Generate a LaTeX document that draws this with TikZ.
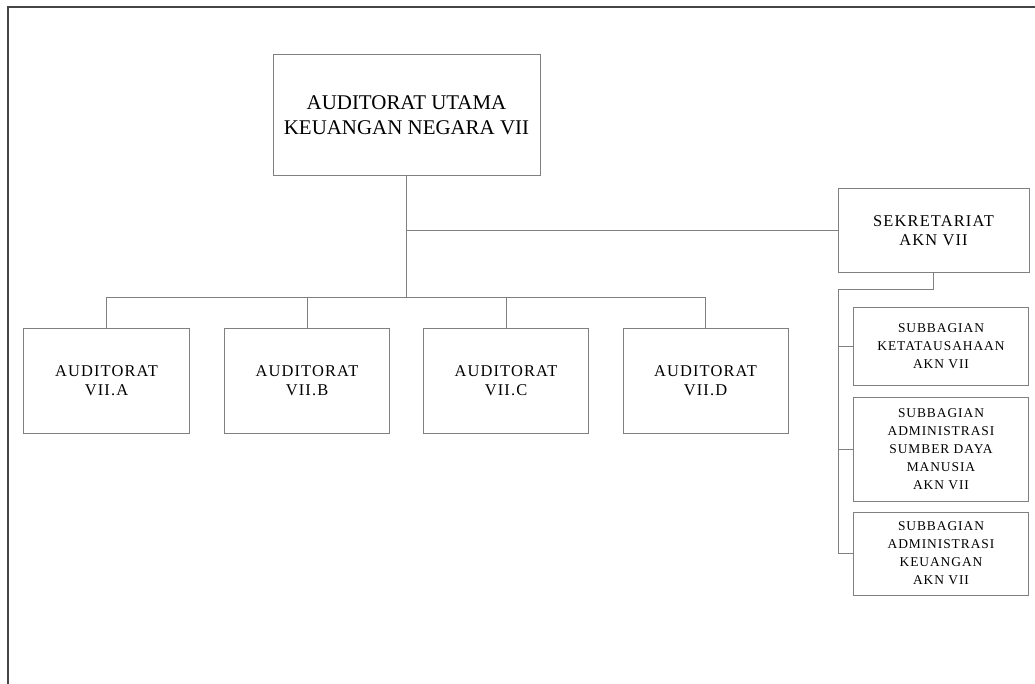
\documentclass[tikz,border=0pt]{standalone}
\usepackage{fontspec}
\setmainfont{Liberation Serif}
\newfontfamily\sparse[LetterSpace=7]{Liberation Serif}
\definecolor{boxgray}{HTML}{808080}
\definecolor{linegray}{HTML}{808080}
\definecolor{framegray}{HTML}{454545}
\tikzset{
  orgbox/.style={draw=boxgray, line width=1bp, rectangle, inner sep=0pt, align=center, text=black},
  conn/.style={draw=linegray, line width=1bp},
  framel/.style={draw=framegray, line width=1.3bp},
  maintext/.style={font=\fontsize{21}{25}\selectfont},
  audtext/.style={font=\sparse\fontsize{16.5}{18.5}\selectfont},
  sektext/.style={font=\sparse\fontsize{16.5}{19}\selectfont},
  subtext/.style={font=\sparse\fontsize{13.5}{18}\selectfont}
}
\begin{document}
\begin{tikzpicture}[x=1bp,y=-1bp]
\useasboundingbox (0,0) rectangle (1035,684);
% frame
\coordinate (fb) at (8,684);
\coordinate (fc) at (8,7);
\coordinate (fr) at (1035,7);
\draw[framel] (fb) -- (fc) -- (fr);
% nodes
\node[orgbox, maintext, minimum width=267bp, minimum height=120bp] (main) at (406.5,115) {AUDITORAT UTAMA\\KEUANGAN NEGARA VII};
\node[orgbox, sektext, minimum width=191bp, minimum height=83bp] (sek) at (933.5,230.5) {SEKRETARIAT\\AKN VII};
\node[orgbox, audtext, minimum width=165bp, minimum height=105bp] (a) at (106.5,380.5) {AUDITORAT\\VII.A};
\node[orgbox, audtext, minimum width=165bp, minimum height=105bp] (b) at (307,380.5) {AUDITORAT\\VII.B};
\node[orgbox, audtext, minimum width=165bp, minimum height=105bp] (c) at (506,380.5) {AUDITORAT\\VII.C};
\node[orgbox, audtext, minimum width=165bp, minimum height=105bp] (d) at (705.5,380.5) {AUDITORAT\\VII.D};
\node[orgbox, subtext, minimum width=175bp, minimum height=78bp] (s1) at (941,346) {SUBBAGIAN\\KETATAUSAHAAN\\AKN VII};
\node[orgbox, subtext, minimum width=175bp, minimum height=104bp] (s2) at (941,449) {SUBBAGIAN\\ADMINISTRASI\\SUMBER DAYA\\MANUSIA\\AKN VII};
\node[orgbox, subtext, minimum width=175bp, minimum height=83bp] (s3) at (941,553.5) {SUBBAGIAN\\ADMINISTRASI\\KEUANGAN\\AKN VII};
% connectors
\coordinate (busL) at (106.5,297);
\coordinate (busR) at (705.5,297);
\draw[conn] (main.south) -- (main.south |- busL);
\draw[conn] (main.south |- sek.west) -- (sek.west);
\draw[conn] (busL) -- (busR);
\draw[conn] (a.north) -- (a.north |- busL);
\draw[conn] (b.north) -- (b.north |- busL);
\draw[conn] (c.north) -- (c.north |- busL);
\draw[conn] (d.north) -- (d.north |- busL);
\coordinate (sk) at (838,289);
\draw[conn] (sek.south) -- (sek.south |- sk) -- (sk) -- (sk |- s3.west) -- (s3.west);
\draw[conn] (sk |- s1.west) -- (s1.west);
\draw[conn] (sk |- s2.west) -- (s2.west);
\end{tikzpicture}
\end{document}
